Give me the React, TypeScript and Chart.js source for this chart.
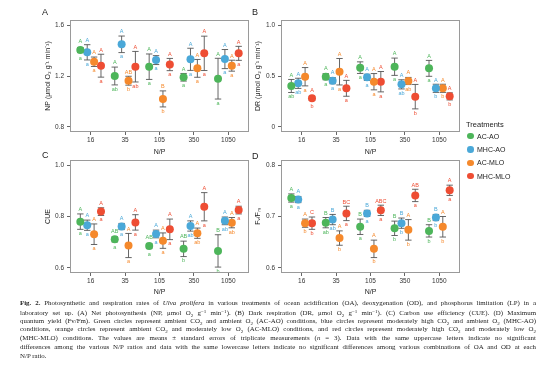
import React, { useEffect, useRef } from "react";
import { Chart, registerables } from "chart.js";

Chart.register(...registerables);

const CATEGORIES = ["16", "35", "105", "350", "1050"];
const TREATMENTS = ["AC-AO", "MHC-AO", "AC-MLO", "MHC-MLO"];
const COLORS = ["#4DB55A", "#4AA8D8", "#F5892C", "#EE4D33"];
const OFFSETS = [-0.3, -0.1, 0.1, 0.3];

// Panel A: NP
const NP_MEAN = [
  [1.404, 1.2, 1.273, 1.19, 1.179],
  [1.386, 1.449, 1.325, 1.331, 1.333],
  [1.312, 1.163, 1.02, 1.26, 1.281],
  [1.281, 1.273, 1.29, 1.378, 1.378],
];
const NP_SE = [
  [0.02, 0.07, 0.1, 0.03, 0.16],
  [0.06, 0.065, 0.035, 0.087, 0.075],
  [0.037, 0.035, 0.063, 0.07, 0.043],
  [0.09, 0.12, 0.048, 0.135, 0.055],
];
const NP_UPPER = [
  ["A", "A", "A", "A", "A"],
  ["A", "A", "A", "A", "A"],
  ["A", "AB", "B", "A", "A"],
  ["A", "A", "A", "A", "A"],
];
const NP_LOWER = [
  ["a", "ab", "a", "a", "a"],
  ["a", "a", "a", "a", "a"],
  ["a", "b", "b", "a", "a"],
  ["a", "ab", "a", "a", "a"],
];
const NP_TICKS = [0.8, 1.2, 1.6];

// Panel B: DR
const DR_MEAN = [
  [0.402, 0.493, 0.582, 0.591, 0.575],
  [0.428, 0.454, 0.487, 0.418, 0.379],
  [0.493, 0.542, 0.444, 0.451, 0.379],
  [0.281, 0.379, 0.444, 0.297, 0.3],
];
const DR_SE = [
  [0.064, 0.03, 0.057, 0.085, 0.078],
  [0.05, 0.03, 0.03, 0.045, 0.04],
  [0.09, 0.13, 0.08, 0.035, 0.04],
  [0.02, 0.078, 0.1, 0.12, 0.035],
];
const DR_UPPER = [
  ["A", "A", "A", "A", "A"],
  ["A", "A", "A", "A", "A"],
  ["A", "A", "A", "A", "A"],
  ["A", "A", "A", "A", "A"],
];
const DR_LOWER = [
  ["ab", "a", "a", "a", "a"],
  ["ab", "a", "a", "ab", "b"],
  ["a", "a", "a", "ab", "b"],
  ["b", "a", "a", "b", "b"],
];
const DR_TICKS = [0, 0.5, 1.0];

// Panel C: CUE
const CUE_MEAN = [
  [0.78, 0.711, 0.685, 0.674, 0.666],
  [0.766, 0.761, 0.732, 0.763, 0.783],
  [0.731, 0.687, 0.706, 0.735, 0.776],
  [0.819, 0.777, 0.75, 0.838, 0.825],
];
const CUE_SE = [
  [0.03, 0.01, 0.01, 0.03, 0.063],
  [0.02, 0.012, 0.015, 0.02, 0.015],
  [0.04, 0.047, 0.03, 0.02, 0.02],
  [0.015, 0.03, 0.04, 0.055, 0.015],
];
const CUE_UPPER = [
  ["A", "AB", "AB", "AB", "B"],
  ["A", "A", "A", "A", "A"],
  ["A", "A", "A", "A", "A"],
  ["A", "A", "A", "A", "A"],
];
const CUE_LOWER = [
  ["a", "a", "a", "b", "b"],
  ["a", "a", "a", "ab", "ab"],
  ["a", "a", "a", "ab", "ab"],
  ["a", "a", "a", "a", "a"],
];
const CUE_TICKS = [0.6, 0.8, 1.0];

// Panel D: Fv/Fm
const FV_MEAN = [
  [0.736, 0.688, 0.68, 0.677, 0.672],
  [0.733, 0.694, 0.706, 0.687, 0.698],
  [0.687, 0.658, 0.637, 0.674, 0.68],
  [0.687, 0.706, 0.712, 0.741, 0.751],
];
const FV_SE = [
  [0.008, 0.01, 0.015, 0.014, 0.012],
  [0.006, 0.01, 0.006, 0.01, 0.006],
  [0.008, 0.014, 0.017, 0.02, 0.02],
  [0.012, 0.014, 0.01, 0.012, 0.01],
];
const FV_UPPER = [
  ["A", "B", "B", "B", "B"],
  ["A", "B", "B", "B", "B"],
  ["A", "A", "A", "A", "A"],
  ["C", "BC", "ABC", "AB", "A"],
];
const FV_LOWER = [
  ["a", "ab", "a", "b", "b"],
  ["a", "ab", "a", "b", "b"],
  ["b", "b", "b", "b", "b"],
  ["b", "a", "a", "a", "a"],
];
const FV_TICKS = [0.6, 0.7, 0.8];

const SANS = "'Liberation Sans', Arial, sans-serif";

type Panel = {
  mean: number[][];
  se: number[][];
  upper: string[][];
  lower: string[][];
  ticks: number[];
  min: number;
  max: number;
  title: string;
  fmt: (v: number) => string;
  yWidth: number;
  xHeight: number;
};

function makeConfig(p: Panel): any {
  const R = 4;
  const overlay = {
    id: "overlay",
    beforeDatasetsDraw(chart: any) {
      const ctx = chart.ctx;
      const xs = chart.scales.x;
      const ys = chart.scales.y;
      ctx.save();
      ctx.strokeStyle = "#555";
      ctx.lineWidth = 0.9;
      p.mean.forEach((row, k) => {
        row.forEach((m, i) => {
          const px = xs.getPixelForValue(i + OFFSETS[k]);
          const t = ys.getPixelForValue(m + p.se[k][i]);
          const b = ys.getPixelForValue(m - p.se[k][i]);
          ctx.beginPath();
          ctx.moveTo(px, t);
          ctx.lineTo(px, b);
          ctx.moveTo(px - 3.2, t);
          ctx.lineTo(px + 3.2, t);
          ctx.moveTo(px - 3.2, b);
          ctx.lineTo(px + 3.2, b);
          ctx.stroke();
        });
      });
      ctx.restore();
    },
    afterDatasetsDraw(chart: any) {
      const ctx = chart.ctx;
      const xs = chart.scales.x;
      const ys = chart.scales.y;
      ctx.save();
      ctx.font = `5.5px ${SANS}`;
      ctx.textAlign = "center";
      ctx.textBaseline = "middle";
      p.mean.forEach((row, k) => {
        ctx.fillStyle = COLORS[k];
        row.forEach((m, i) => {
          const px = xs.getPixelForValue(i + OFFSETS[k]);
          const c = ys.getPixelForValue(m);
          const t = Math.min(ys.getPixelForValue(m + p.se[k][i]), c - R);
          const b = Math.max(ys.getPixelForValue(m - p.se[k][i]), c + R);
          ctx.fillText(p.upper[k][i], px, t - 4.2);
          ctx.fillText(p.lower[k][i], px, b + 4.2);
        });
      });
      const a = chart.chartArea;
      ctx.strokeStyle = "#9a9a9a";
      ctx.lineWidth = 1;
      ctx.strokeRect(
        Math.round(a.left) + 0.5,
        Math.round(a.top) + 0.5,
        Math.round(a.right - a.left) - 1,
        Math.round(a.bottom - a.top) - 1
      );
      ctx.restore();
    },
  };

  return {
    type: "scatter",
    data: {
      datasets: p.mean.map((row, k) => ({
        label: TREATMENTS[k],
        data: row.map((m, i) => ({ x: i + OFFSETS[k], y: m })),
        pointRadius: R,
        pointBackgroundColor: COLORS[k],
        pointBorderWidth: 0,
        pointBorderColor: COLORS[k],
        showLine: false,
      })),
    },
    options: {
      responsive: false,
      animation: false,
      devicePixelRatio: 1,
      layout: { padding: { top: 20, right: 6, left: 0, bottom: 0 } },
      plugins: { legend: { display: false }, tooltip: { enabled: false } },
      scales: {
        x: {
          type: "linear",
          min: -0.6,
          max: 4.6,
          afterBuildTicks: (s: any) => {
            s.ticks = CATEGORIES.map((_, i) => ({ value: i }));
          },
          afterFit: (s: any) => {
            s.height = p.xHeight;
          },
          ticks: {
            callback: (v: any) => CATEGORIES[Math.round(v)] ?? "",
            font: { size: 6.5, family: SANS },
            color: "#333",
            padding: 1,
            maxRotation: 0,
          },
          grid: {
            display: true,
            drawOnChartArea: false,
            drawTicks: true,
            tickLength: 3,
            tickColor: "#666",
          },
          border: { display: false },
          title: {
            display: true,
            text: "N/P",
            font: { size: 7, family: SANS },
            color: "#222",
            padding: { top: 4, bottom: 4 },
          },
        },
        y: {
          min: p.min,
          max: p.max,
          afterBuildTicks: (s: any) => {
            s.ticks = p.ticks.map((v) => ({ value: v }));
          },
          afterFit: (s: any) => {
            s.width = p.yWidth;
          },
          ticks: {
            callback: (v: any) => p.fmt(Number(v)),
            font: { size: 6.5, family: SANS },
            color: "#333",
            padding: 3,
          },
          grid: {
            display: true,
            drawOnChartArea: false,
            drawTicks: true,
            tickLength: 3,
            tickColor: "#666",
          },
          border: { display: false },
          title: {
            display: true,
            text: p.title,
            font: { size: 7, family: SANS },
            color: "#222",
            padding: { top: 4, bottom: 4 },
          },
        },
      },
    },
    plugins: [overlay],
  };
}

function PanelChart(props: { panel: Panel; left: number; top: number; width: number; height: number }) {
  const ref = useRef<HTMLCanvasElement>(null);
  useEffect(() => {
    if (!ref.current) return;
    const chart = new Chart(ref.current, makeConfig(props.panel));
    return () => chart.destroy();
  }, []);
  return (
    <canvas
      ref={ref}
      width={props.width}
      height={props.height}
      style={{
        position: "absolute",
        left: props.left,
        top: props.top,
        width: props.width,
        height: props.height,
      }}
    />
  );
}

const PANEL_A: Panel = {
  mean: NP_MEAN, se: NP_SE, upper: NP_UPPER, lower: NP_LOWER, ticks: NP_TICKS,
  min: 0.76, max: 1.64, title: "NP (μmol O₂ g⁻¹ min⁻¹)", fmt: (v) => v.toFixed(1),
  yWidth: 30, xHeight: 28,
};
const PANEL_B: Panel = {
  mean: DR_MEAN, se: DR_SE, upper: DR_UPPER, lower: DR_LOWER, ticks: DR_TICKS,
  min: -0.05, max: 1.05, title: "DR (μmol O₂ g⁻¹ min⁻¹)", fmt: (v) => (v === 0 ? "0" : v.toFixed(1)),
  yWidth: 31, xHeight: 28,
};
const PANEL_C: Panel = {
  mean: CUE_MEAN, se: CUE_SE, upper: CUE_UPPER, lower: CUE_LOWER, ticks: CUE_TICKS,
  min: 0.58, max: 1.02, title: "CUE", fmt: (v) => v.toFixed(1),
  yWidth: 30, xHeight: 27,
};
const PANEL_D: Panel = {
  mean: FV_MEAN, se: FV_SE, upper: FV_UPPER, lower: FV_LOWER, ticks: FV_TICKS,
  min: 0.59, max: 0.81, title: "Fᵥ/Fₘ", fmt: (v) => v.toFixed(1),
  yWidth: 31, xHeight: 27,
};

const sub = (t: string) => (
  <span style={{ fontSize: "5px", verticalAlign: "-1.5px" }}>{t}</span>
);
const sup = (t: string) => (
  <span style={{ fontSize: "5px", verticalAlign: "2.4px" }}>{t}</span>
);

const CAPTION_LINES = [
  <>
    <b>Fig. 2.</b> Photosynthetic and respiration rates of <i>Ulva prolifera</i> in various treatments of ocean acidification (OA), deoxygenation (OD), and phosphorus limitation (LP) in a
  </>,
  <>
    laboratory set up. (A) Net photosynthesis (NP, μmol O{sub("2")} g{sup("−1")} min{sup("−1")}). (B) Dark respiration (DR, μmol O{sub("2")} g{sup("−1")} min{sup("−1")}). (C) Carbon use efficiency (CUE). (D) Maximum
  </>,
  <>
    quantum yield (Fv/Fm). Green circles represent ambient CO{sub("2")} and ambient O{sub("2")} (AC-AO) conditions, blue circles represent moderately high CO{sub("2")} and ambient O{sub("2")} (MHC-AO)
  </>,
  <>
    conditions, orange circles represent ambient CO{sub("2")} and moderately low O{sub("2")} (AC-MLO) conditions, and red circles represent moderately high CO{sub("2")} and moderately low O{sub("2")}
  </>,
  <>
    (MHC-MLO) conditions. The values are means ± standard errors of triplicate measurements (<i>n</i> = 3). Data with the same uppercase letters indicate no significant
  </>,
  <>
    differences among the various N/P ratios and data with the same lowercase letters indicate no significant differences among various combinations of OA and OD at each
  </>,
  <>N/P ratio.</>,
];

export default function App() {
  const letter = (t: string, left: number, top: number) => (
    <div
      style={{
        position: "absolute",
        left,
        top,
        fontFamily: SANS,
        fontSize: "9px",
        lineHeight: "9px",
        color: "#222",
      }}
    >
      {t}
    </div>
  );
  return (
    <div
      style={{
        position: "absolute",
        left: 0,
        top: 0,
        width: 554,
        height: 385,
        background: "#fff",
        overflow: "hidden",
      }}
    >
      <PanelChart panel={PANEL_A} left={40} top={0} width={215} height={160} />
      <PanelChart panel={PANEL_B} left={250} top={0} width={216} height={160} />
      <PanelChart panel={PANEL_C} left={40} top={140} width={215} height={160} />
      <PanelChart panel={PANEL_D} left={250} top={140} width={216} height={160} />
      {letter("A", 42, 8)}
      {letter("B", 252, 8)}
      {letter("C", 42, 151)}
      {letter("D", 252, 152)}
      <div
        style={{
          position: "absolute",
          left: 466,
          top: 120,
          fontFamily: SANS,
          fontSize: "7.5px",
          lineHeight: "10px",
          color: "#222",
        }}
      >
        Treatments
      </div>
      {TREATMENTS.map((t, k) => (
        <div
          key={t}
          style={{
            position: "absolute",
            left: 467,
            top: 131 + k * 13.4,
            height: 10,
            display: "flex",
            alignItems: "center",
            fontFamily: SANS,
            fontSize: "7px",
            color: "#222",
          }}
        >
          <span
            style={{
              display: "inline-block",
              width: 6.5,
              height: 6.5,
              borderRadius: "50%",
              background: COLORS[k],
              marginRight: 3.5,
            }}
          />
          {t}
        </div>
      ))}
      {CAPTION_LINES.map((line, i) => (
        <div
          key={i}
          style={{
            position: "absolute",
            left: 20,
            top: 299 + i * 8.8,
            width: 516,
            height: 8.8,
            fontFamily: "'Liberation Serif', 'Times New Roman', serif",
            fontSize: "6.9px",
            lineHeight: "8.8px",
            color: "#222",
            whiteSpace: "nowrap",
            textAlign: "justify",
            textAlignLast: i === CAPTION_LINES.length - 1 ? "left" : "justify",
          }}
        >
          {line}
        </div>
      ))}
    </div>
  );
}
